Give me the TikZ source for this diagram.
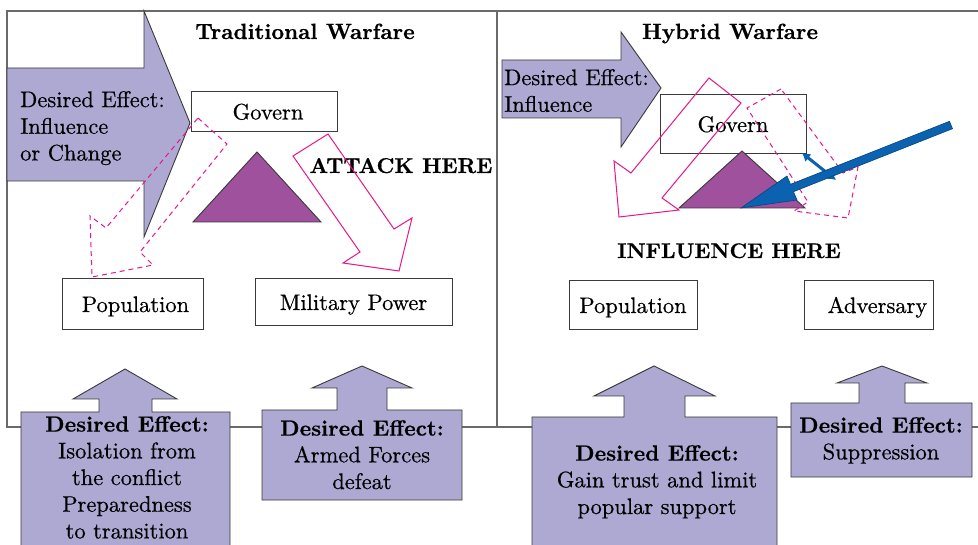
\documentclass[tikz,border=0pt]{standalone}
\usepackage{fontspec}
\setmainfont{lmroman10-regular.otf}[BoldFont=lmroman10-bold.otf, FakeBold=0.5]
\usetikzlibrary{arrows.meta}
\definecolor{lav}{HTML}{ADA9D3}
\definecolor{tri}{HTML}{9F519D}
\definecolor{mag}{HTML}{E6178C}
\definecolor{blu}{HTML}{0A62B0}
\definecolor{edgec}{HTML}{3A3A3A}
\definecolor{framec}{HTML}{6A6A6A}
\newcommand\regsz{\fontsize{22.5}{26.7}\selectfont}
\newcommand\bldsz{\fontsize{22}{26.7}\selectfont\bfseries}
\begin{document}
\begin{tikzpicture}[x=1pt,y=-1pt,
  font=\regsz,
  frame/.style={draw=framec, line width=1.2pt},
  bigarrow/.style={fill=lav, draw=edgec, line width=0.9pt, line join=miter},
  tribox/.style={fill=tri, draw=edgec, line width=0.9pt},
  wbox/.style={draw=edgec, line width=1pt, fill=white, inner sep=0pt, text height=15pt, text depth=0pt},
  magsolid/.style={draw=mag, line width=1pt},
  magdash/.style={draw=mag, line width=1pt, dash pattern=on 5pt off 4pt},
  ttl/.style={font=\bldsz, anchor=base, inner sep=0pt},
  efftext/.style={align=center, anchor=north, inner sep=0pt},
  sidetext/.style={align=left, anchor=north west, inner sep=0pt}
]
\useasboundingbox (0,0) rectangle (978,545);
\fill[white] (0,0) rectangle (978,545);

% frames
\draw[frame] (978,11) -- (7,11) -- (7,427) -- (978,427);
\draw[frame] (497,11) -- (497,427);

% titles
\node[ttl] (t1) at (305,39) {Traditional Warfare};
\node[ttl] (t2) at (730,39) {Hybrid Warfare};

% big side arrows
\draw[bigarrow] (7,68) -- (144,68) -- (144,11) -- (190,123) -- (144,237) -- (144,181) -- (7,181) -- cycle;
\node[sidetext] (s1) at (20,91) {Desired Effect:\\Influence\\or Change};
\draw[bigarrow] (502,60) -- (621,60) -- (621,32) -- (661,88) -- (621,147) -- (621,118) -- (502,118) -- cycle;
\node[sidetext] (s2) at (504,69) {Desired Effect:\\Influence};

% left panel boxes
\node[wbox, minimum width=146pt, minimum height=40pt] (gov1) at (264,112) {\hspace*{8pt}Govern};
\node[wbox, minimum width=141pt, minimum height=51pt] (pop1) at (132.5,304.5) {\hspace*{6pt}Population};
\node[wbox, minimum width=197pt, minimum height=47pt] (mil) at (353.5,302.5) {Military Power};
\draw[tribox] (257,152) -- (193,222) -- (321,222) -- cycle;
\node[ttl, font=\fontsize{21.5}{25}\selectfont\bfseries] (atk) at (401,173) {ATTACK HERE};

% left magenta arrows
\draw[magdash] (198,118) -- (227,144) -- (140,252) -- (153,265) -- (92,277) -- (90,216) -- (106,228) -- cycle;
\draw[magsolid] (328,134) -- (394,229) -- (412,218) -- (399,271) -- (343,263) -- (360,252) -- (293,156) -- cycle;

% right panel
\node[wbox, minimum width=146pt, minimum height=59pt] (gov2) at (733,124.5) {Govern};
\draw[tribox] (742,151) -- (679,208) -- (805,208) -- cycle;
\node[ttl, font=\fontsize{21.2}{25}\selectfont\bfseries] (inf) at (729,258) {INFLUENCE HERE};
\node[wbox, minimum width=128pt, minimum height=49pt] (pop2) at (633,305.5) {Population};
\node[wbox, minimum width=129pt, minimum height=49pt] (adv) at (868.5,305.5) {\hspace*{18pt}Adversary};

\draw[magsolid] (709,78) -- (741,103) -- (662,198) -- (679,210) -- (619,217) -- (614,161) -- (631,173) -- cycle;
\draw[magdash] (781,89) -- (747,108) -- (808,202) -- (794,211) -- (848,218) -- (858,167) -- (843,173) -- cycle;

% blue arrows
\draw[blu, line width=3pt, {Latex[length=8pt,width=10pt]}-{Latex[length=8pt,width=10pt]}] (802,153) -- (836,180);
\draw[fill=blu, draw=blu!70!black, line width=0.6pt, line join=miter]
  (741,208) -- (797,200) -- (793.5,191.7) -- (952.5,128.7) -- (949.5,121.3) -- (790.5,184.3) -- (787,176) -- cycle;

% bottom arrows with boxes
\draw[bigarrow] (21,560) -- (21,412) -- (99,412) -- (99,399) -- (73,399) -- (125,369) -- (177,399) -- (152,399) -- (152,412) -- (230,412) -- (230,560) -- cycle;
\node[efftext] (e1) at (127,416) {{\bldsz Desired Effect:}\\Isolation from\\the conflict\\Preparedness\\to transition};

\draw[bigarrow] (262,500) -- (262,410) -- (337,410) -- (337,388) -- (312,388) -- (362,366) -- (412,388) -- (387,388) -- (387,410) -- (462,410) -- (462,500) -- cycle;
\node[efftext] (e2) at (362,420) {{\bldsz Desired Effect:}\\Armed Forces\\defeat};

\draw[bigarrow] (532,560) -- (532,417) -- (624,417) -- (624,396) -- (594,396) -- (654,366) -- (715,396) -- (685,396) -- (685,417) -- (777,417) -- (777,560) -- cycle;
\node[efftext] (e3) at (657,445) {{\bldsz Desired Effect:}\\Gain trust and limit\\popular support};

\draw[bigarrow] (791,477) -- (791,403) -- (859,403) -- (859,383) -- (837,383) -- (882,366) -- (927,383) -- (905,383) -- (905,403) -- (972,403) -- (972,477) -- cycle;
\node[efftext] (e4) at (881,417) {{\bldsz Desired Effect:}\\Suppression};
\end{tikzpicture}
\end{document}
